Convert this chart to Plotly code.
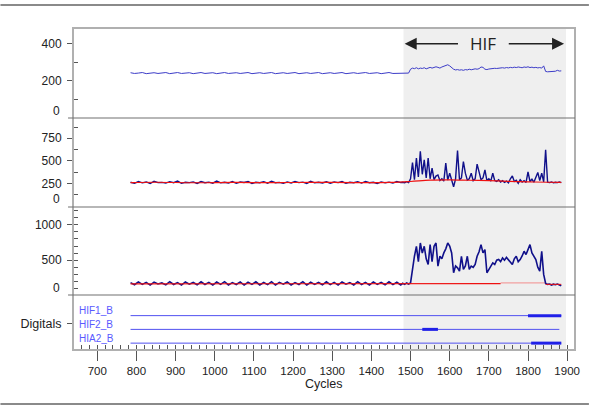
import numpy as np
import plotly.graph_objects as go

# ---------------- data ----------------
# baseline region sampled every 10 cycles (785..1475), HIF region every 5 cycles (1480..1885)
base_cycles = list(range(785, 1480, 10))
hif_cycles = list(range(1480, 1890, 5))

p1_base = [243, 239, 241, 244, 238, 242, 243, 239, 240, 244,
           238, 242, 244, 239, 241, 243, 238, 241, 244, 239,
           242, 243, 238, 241, 244, 239, 240, 243, 239, 242,
           244, 238, 241, 243, 239, 242, 244, 238, 240, 243,
           239, 242, 244, 238, 241, 243, 239, 240, 244, 238,
           242, 243, 239, 241, 244, 238, 242, 243, 239, 240,
           244, 239, 241, 243, 238, 242, 244, 239, 240, 243]
p1_hif = [242, 240, 243, 241, 262, 268, 265, 270, 264, 268,
          266, 270, 264, 267, 272, 268, 270, 275, 272, 268,
          274, 278, 282, 286, 280, 270, 262, 258, 260, 257,
          259, 256, 260, 258, 262, 259, 262, 264, 262, 265,
          274, 272, 262, 260, 263, 265, 264, 267, 266, 268,
          267, 270, 268, 271, 269, 272, 270, 273, 271, 274,
          272, 270, 274, 272, 275, 271, 273, 270, 272, 269,
          271, 268, 280, 250, 248, 249, 247, 250, 251, 256,
          252, 253]

p2_base = [262, 250, 270, 255, 265, 248, 272, 258, 260, 252,
           268, 256, 274, 250, 262, 258, 266, 249, 270, 257,
           263, 251, 275, 255, 261, 253, 269, 250, 264, 259,
           271, 248, 262, 256, 268, 252, 273, 257, 260, 250,
           266, 254, 270, 258, 263, 249, 272, 255, 261, 253,
           267, 251, 264, 258, 270, 250, 262, 256, 268, 253,
           271, 257, 261, 249, 266, 255, 263, 252, 269, 258]
p2_hif = [262, 255, 268, 258, 300, 480, 290, 530, 320, 604,
          350, 511, 310, 530, 300, 418, 290, 330, 343, 280,
          300, 275, 474, 285, 362, 270, 212, 300, 615, 290,
          310, 492, 362, 285, 300, 362, 280, 300, 463, 377,
          290, 310, 399, 280, 300, 275, 362, 280, 270, 290,
          265, 280, 260, 275, 255, 300, 332, 270, 285, 250,
          290, 265, 280, 260, 377, 270, 295, 262, 310, 370,
          280, 362, 265, 623, 262, 258, 265, 255, 262, 258,
          264, 258]
p2_red_cycles = [785, 850, 950, 1050, 1150, 1250, 1350, 1450, 1500, 1550, 1600, 1650, 1700, 1750, 1800, 1850, 1885]
p2_red_vals = [258, 262, 256, 260, 257, 261, 258, 260, 270, 285, 288, 284, 280, 272, 266, 262, 260]

p3_base = [185, 155, 195, 160, 188, 150, 192, 165, 180, 152,
           198, 158, 185, 150, 194, 162, 186, 154, 196, 158,
           188, 150, 192, 160, 198, 152, 184, 158, 194, 150,
           190, 160, 196, 152, 186, 156, 198, 150, 188, 162,
           194, 152, 184, 158, 198, 150, 190, 160, 186, 154,
           196, 156, 188, 150, 194, 162, 184, 152, 198, 158,
           188, 150, 194, 160, 186, 154, 196, 156, 190, 152]
p3_hif = [175, 160, 180, 165, 180, 380, 556, 696, 480, 743,
          600, 696, 520, 440, 720, 480, 696, 743, 417, 556,
          520, 603, 660, 743, 700, 603, 323, 420, 393, 346,
          556, 370, 420, 556, 370, 417, 400, 440, 556, 620,
          720, 603, 650, 323, 370, 420, 463, 440, 500, 510,
          480, 533, 500, 540, 510, 470, 440, 520, 556, 480,
          510, 560, 626, 580, 650, 720, 603, 560, 510, 400,
          346, 626, 300, 174, 160, 165, 150, 162, 155, 165,
          150, 140]
p3_red_cycles = [785, 1000, 1250, 1500, 1730]
p3_red_vals = [168, 170, 169, 170, 170]
p3_red_light_cycles = [1730, 1845]
p3_red_light_vals = [180, 180]
p3_red_end_cycles = [1845, 1885]
p3_red_end_vals = [160, 160]

dig_names = ["HIF1_B", "HIF2_B", "HIA2_B"]
dig_level = [2.5, 1.5, 0.5]
dig_start = [785, 785, 785]
dig_end = [1885, 1880, 1885]
dig_on_start = [1800, 1530, 1808]
dig_on_end = [1885, 1570, 1885]

hif_region = [1482, 1897]
x_ticks = [700, 800, 900, 1000, 1100, 1200, 1300, 1400, 1500, 1600, 1700, 1800, 1900]

assert len(p1_base) == len(base_cycles) == len(p2_base) == len(p3_base)
assert len(p1_hif) == len(hif_cycles) == len(p2_hif) == len(p3_hif)

cycles = base_cycles + hif_cycles
p1 = p1_base + p1_hif
p2 = p2_base + p2_hif
p3 = p3_base + p3_hif

# ---------------- figure ----------------
W, H = 592, 406
ML, MR, MT, MB = 73, 14, 28, 56
PW, PH = W - ML - MR, H - MT - MB

def py(px):  # pixel y -> paper y
    return (H - MB - px) / PH

def pxx(px):  # pixel x -> paper x
    return (px - ML) / PW

dark = "#10108a"
fig = go.Figure()
fig.add_trace(go.Scatter(x=cycles, y=p1, xaxis="x", yaxis="y", mode="lines",
                         line=dict(color="#3c3cc8", width=1), showlegend=False))
fig.add_trace(go.Scatter(x=cycles, y=p2, xaxis="x", yaxis="y2", mode="lines",
                         line=dict(color=dark, width=1.4), showlegend=False))
fig.add_trace(go.Scatter(x=p2_red_cycles, y=p2_red_vals, xaxis="x", yaxis="y2", mode="lines",
                         line=dict(color="#ee1111", width=1.2, shape="spline"), showlegend=False))
fig.add_trace(go.Scatter(x=p3_red_light_cycles, y=p3_red_light_vals, xaxis="x", yaxis="y3", mode="lines",
                         line=dict(color="#f2a0a0", width=1.2), showlegend=False))
fig.add_trace(go.Scatter(x=cycles, y=p3, xaxis="x", yaxis="y3", mode="lines",
                         line=dict(color=dark, width=1.6), showlegend=False))
fig.add_trace(go.Scatter(x=p3_red_cycles, y=p3_red_vals, xaxis="x", yaxis="y3", mode="lines",
                         line=dict(color="#ee1111", width=1.2), showlegend=False))
fig.add_trace(go.Scatter(x=p3_red_end_cycles, y=p3_red_end_vals, xaxis="x", yaxis="y3", mode="lines",
                         line=dict(color="#ee1111", width=1), showlegend=False))

for i in range(len(dig_names)):
    fig.add_trace(go.Scatter(x=[dig_start[i], dig_end[i]], y=[dig_level[i]] * 2, xaxis="x", yaxis="y4",
                             mode="lines", line=dict(color="#5050f0", width=1), showlegend=False))
    fig.add_trace(go.Scatter(x=[dig_on_start[i], dig_on_end[i]], y=[dig_level[i]] * 2, xaxis="x", yaxis="y4",
                             mode="lines", line=dict(color="#2020e8", width=3), showlegend=False))

font = "Liberation Sans, Arial, sans-serif"
tick_color = "#555"
d4 = [0, py(295)]
d3 = [py(295), py(207)]
d2 = [py(207), py(118)]
d1 = [py(118), 1]

yax_common = dict(anchor="x", showline=True, linecolor=tick_color, linewidth=1, ticks="outside",
                  ticklen=5, tickcolor=tick_color, showgrid=False, zeroline=False,
                  tickfont=dict(family=font, size=12, color="#222"), ticklabelstandoff=3)

fig.update_layout(
    width=W, height=H, margin=dict(l=ML, r=MR, t=MT, b=MB),
    paper_bgcolor="white", plot_bgcolor="white",
    xaxis=dict(anchor="y4", range=[638, 1920], tickvals=x_ticks, ticks="outside", ticklen=10,
               tickcolor=tick_color, showline=True, linecolor=tick_color, showgrid=False, zeroline=False,
               tickfont=dict(family=font, size=11.5, color="#222"),
               minor=dict(dtick=20, tick0=0, ticks="inside", ticklen=5, tickcolor=tick_color, showgrid=False)),
    yaxis=dict(domain=d1, range=[-2, 485], tickvals=[200, 400],
               minor=dict(tickvals=[100, 300], ticks="inside", ticklen=5, tickcolor=tick_color), **yax_common),
    yaxis2=dict(domain=d2, range=[-13, 975], tickvals=[250, 500, 750],
                minor=dict(tickvals=[125, 375, 625, 875], ticks="inside", ticklen=5, tickcolor=tick_color), **yax_common),
    yaxis3=dict(domain=d3, range=[10, 1250], tickvals=[500, 1000],
                minor=dict(dtick=100, tick0=0, ticks="inside", ticklen=5, tickcolor=tick_color), **yax_common),
    yaxis4=dict(domain=d4, range=[0, 4], tickvals=[1.92], ticktext=["Digitals"],
                **{k: v for k, v in yax_common.items() if k != "tickfont"},
                tickfont=dict(family=font, size=12.5, color="#222")),
)

shapes = []
# HIF shading
shapes.append(dict(type="rect", xref="x", yref="paper", x0=hif_region[0], x1=hif_region[1], y0=0, y1=1,
                   fillcolor="#efefef", line=dict(width=0), layer="below"))
# outer plot box
shapes.append(dict(type="rect", xref="paper", yref="paper", x0=0, x1=1, y0=0, y1=1,
                   line=dict(color="#b0b0b0", width=2), layer="above"))
# panel separators
for yb in [118, 207, 295]:
    shapes.append(dict(type="line", xref="paper", yref="paper", x0=pxx(68), x1=1, y0=py(yb), y1=py(yb),
                       line=dict(color="#707070", width=1.2)))
# page rules top & bottom
for yb in [5, 404]:
    shapes.append(dict(type="line", xref="paper", yref="paper", x0=pxx(0), x1=pxx(W), y0=py(yb), y1=py(yb),
                       line=dict(color="#8a8a8a", width=2)))
fig.update_layout(shapes=shapes)

ann = []
# "0" labels shifted up from panel edges
for yr, y0 in [("y", 0), ("y2", 0), ("y3", 10)]:
    ann.append(dict(text="0", xref="paper", yref=yr, x=0, y=y0, xanchor="right", yanchor="middle",
                    xshift=-11, yshift=7, showarrow=False, font=dict(family=font, size=12, color="#222")))
# digital channel labels
for name, lv in zip(dig_names, dig_level):
    ann.append(dict(text=name, xref="paper", yref="y4", x=pxx(77), y=lv + 0.36, xanchor="left",
                    yanchor="middle", showarrow=False, font=dict(family=font, size=10, color="#5a5aff")))
# axis title
ann.append(dict(text="Cycles", xref="paper", yref="paper", x=0.5, y=py(384), xanchor="center", yanchor="middle",
                showarrow=False, font=dict(family=font, size=12.5, color="#222")))
# HIF label with arrows
ann.append(dict(text="HIF", xref="x", yref="y", x=1686, y=400, showarrow=False,
                font=dict(family="Open Sans, DejaVu Sans, sans-serif", size=17, color="#222")))
ann.append(dict(text="", xref="x", yref="y", x=1485, y=400, axref="x", ayref="y", ax=1625, ay=400,
                showarrow=True, arrowhead=2, arrowsize=1.6, arrowwidth=1.5, arrowcolor="#222"))
ann.append(dict(text="", xref="x", yref="y", x=1892, y=400, axref="x", ayref="y", ax=1747, ay=400,
                showarrow=True, arrowhead=2, arrowsize=1.6, arrowwidth=1.5, arrowcolor="#222"))
fig.update_layout(annotations=ann)

fig.write_html("out.html", config={"displayModeBar": False},
               post_script="document.body.style.margin='0';")
